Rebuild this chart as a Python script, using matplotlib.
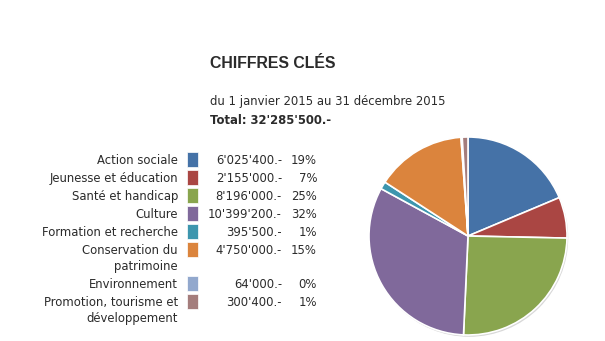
import matplotlib.pyplot as plt
from matplotlib.patches import Rectangle, Circle

# Données
categories = ['Action sociale', 'Jeunesse et éducation', 'Santé et handicap', 'Culture',
              'Formation et recherche', 'Conservation du\npatrimoine', 'Environnement',
              'Promotion, tourisme et\ndéveloppement']
montants = [6025400, 2155000, 8196000, 10399200, 395500, 4750000, 64000, 300400]
couleurs = ['#4572A7', '#AA4643', '#89A54E', '#80699B', '#3D96AE', '#DB843D', '#92A8CD', '#A47D7C']

total = sum(montants)
pourcents = [round(100 * m / total) for m in montants]


def fmt(v):
    return f"{v:,}".replace(',', "'") + ".-"


W, H = 605, 341
fig = plt.figure(figsize=(W / 100, H / 100), dpi=100)
plt.rcParams['font.family'] = ['DejaVu Sans']

# Axe de fond en pixels pour les textes
ax0 = fig.add_axes([0, 0, 1, 1])
ax0.set_xlim(0, W)
ax0.set_ylim(H, 0)
ax0.axis('off')

txt = '#2b2b2b'
fs = 8.4
ax0.text(210, 64, 'CHIFFRES CLÉS', fontsize=11.4, fontweight='bold', color=txt,
         family='Liberation Sans', va='center')
ax0.text(210, 101.5, 'du 1 janvier 2015 au 31 décembre 2015', fontsize=fs, color=txt, va='center')
ax0.text(210, 120.5, 'Total: ' + fmt(total), fontsize=fs, fontweight='bold', color=txt, va='center')

# Légende
y = 160.5
for cat, m, p, c in zip(categories, montants, pourcents, couleurs):
    for i, ligne in enumerate(cat.split('\n')):
        ax0.text(178, y + 16 * i, ligne, fontsize=fs, color=txt, ha='right', va='center')
    ax0.add_patch(Rectangle((187, y - 9), 11, 15, facecolor=c, edgecolor='white', lw=0.5))
    ax0.text(282, y, fmt(m), fontsize=fs, color=txt, ha='right', va='center')
    ax0.text(317, y, f'{p}%', fontsize=fs, color=txt, ha='right', va='center')
    y += 18 + 16 * cat.count('\n')

# Camembert
cx, cy, r = 468, 236, 99
pad = 1.03
ax = fig.add_axes([(cx - r * pad) / W, (H - cy - r * pad) / H, 2 * r * pad / W, 2 * r * pad / H])
ax.add_patch(Circle((0.012, -0.018), 1.0, facecolor='#d8d8d8', edgecolor='none', zorder=0))
ax.pie(montants, colors=couleurs, startangle=90, counterclock=False,
       wedgeprops=dict(edgecolor='white', linewidth=1.2))
ax.set_xlim(-pad, pad)
ax.set_ylim(-pad, pad)
ax.set_aspect('equal')
ax.axis('off')

fig.savefig('out.png', dpi=100)
